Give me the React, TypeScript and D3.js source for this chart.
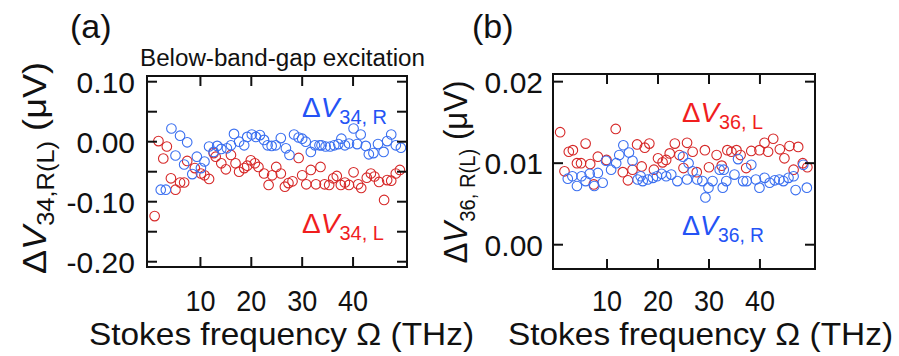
import React from "react";
import * as d3 from "d3";

// Panel (a): ΔV34 — frequency (THz) and voltage (μV)
const aRedX = [1.0,1.75,2.7,3.4,4.2,5.1,6.0,6.8,7.4,8.9,10.1,10.8,11.7,12.6,13.0,14.1,15.0,16.0,16.9,17.6,18.6,19.2,19.9,20.7,21.4,22.5,23.4,24.1,24.9,25.8,26.6,27.3,28.1,29.3,30.0,30.8,31.7,32.7,33.6,34.4,35.3,36.1,36.8,37.6,38.4,39.2,40.1,41.0,41.6,42.7,43.5,44.2,45.1,46.1,46.7,47.5,48.4,49.2];
const aRedV = [-0.124,0.001,-0.028,-0.008,-0.061,-0.080,-0.068,-0.068,-0.032,-0.044,-0.053,-0.056,-0.062,-0.019,-0.025,-0.036,-0.046,-0.022,-0.036,-0.050,-0.044,-0.040,-0.031,-0.036,-0.042,-0.053,-0.072,-0.056,-0.042,-0.053,-0.075,-0.069,-0.066,-0.027,-0.056,-0.071,-0.047,-0.071,-0.042,-0.071,-0.072,-0.061,-0.057,-0.072,-0.068,-0.072,-0.051,-0.071,-0.077,-0.060,-0.053,-0.058,-0.067,-0.097,-0.064,-0.065,-0.053,-0.047];
const aBlueX = [2.2,3.2,4.3,5.1,6.0,6.8,7.4,8.4,9.3,10.1,10.8,11.7,12.6,13.3,14.1,15.2,16.0,16.6,17.6,18.6,19.2,20.1,20.9,21.7,22.5,23.2,24.0,24.8,25.8,26.8,27.5,28.4,29.3,30.0,30.7,31.7,32.5,33.4,33.8,34.6,35.5,36.3,37.1,37.7,38.4,39.2,40.1,40.8,41.5,42.5,43.1,44.0,44.9,46.0,46.7,47.5,48.4,49.4];
const aBlueV = [-0.080,-0.080,0.022,-0.023,0.010,-0.038,-0.001,-0.054,-0.025,-0.044,-0.033,-0.008,-0.017,-0.007,-0.012,-0.011,-0.006,0.013,0.000,-0.006,0.008,0.012,0.008,0.011,0.003,-0.006,-0.007,-0.006,0.006,-0.011,-0.022,0.012,0.007,0.005,0.000,-0.017,-0.006,-0.006,-0.006,-0.008,-0.008,-0.006,-0.004,0.005,-0.006,-0.003,0.022,-0.004,0.012,-0.007,-0.021,-0.019,-0.004,-0.017,0.001,0.012,-0.006,-0.010];

// Panel (b): ΔV36
const bRedX = [0.8,1.65,2.5,3.3,4.1,4.9,5.8,6.7,7.4,8.2,9.9,11.7,13.1,14.1,15.0,15.9,16.8,17.4,18.3,19.2,20.0,20.9,21.6,22.3,23.3,24.2,25.0,25.7,26.8,27.6,29.2,30.0,31.5,32.5,33.6,34.4,35.4,36.2,37.3,38.3,39.9,40.9,41.6,42.6,43.9,44.8,45.8,46.6,47.5,48.4,49.3];
const bRedV = [0.0138,0.0090,0.0114,0.0116,0.0100,0.0100,0.0124,0.0099,0.0074,0.0108,0.0104,0.0142,0.0089,0.0079,0.0092,0.0123,0.0096,0.0119,0.0124,0.0092,0.0106,0.0101,0.0104,0.0112,0.0124,0.0110,0.0094,0.0125,0.0114,0.0089,0.0116,0.0095,0.0110,0.0097,0.0116,0.0114,0.0116,0.0110,0.0094,0.0115,0.0116,0.0125,0.0114,0.0130,0.0117,0.0106,0.0121,0.0092,0.0120,0.0100,0.0095];
const bBlueX = [2.3,3.2,4.1,5.0,5.8,6.6,7.5,8.2,9.15,9.8,10.8,11.8,12.4,13.2,14.3,15.0,16.0,16.6,17.0,18.0,19.0,19.8,20.7,21.6,22.6,23.8,24.9,25.7,26.0,26.8,27.7,28.7,29.3,29.9,30.7,32.1,32.7,32.9,33.4,35.0,35.7,36.7,37.4,38.3,39.2,39.9,40.9,41.9,42.9,43.8,44.6,45.6,46.6,47.0,48.5,49.2];
const bBlueV = [0.0081,0.0084,0.0072,0.0084,0.0078,0.0087,0.0072,0.0088,0.0076,0.0103,0.0092,0.0100,0.0110,0.0122,0.0113,0.0103,0.0080,0.0084,0.0078,0.0080,0.0082,0.0084,0.0087,0.0084,0.0086,0.0078,0.0108,0.0080,0.0100,0.0090,0.0080,0.0078,0.0058,0.0070,0.0078,0.0092,0.0070,0.0092,0.0078,0.0086,0.0105,0.0078,0.0078,0.0098,0.0080,0.0070,0.0082,0.0076,0.0079,0.0080,0.0078,0.0082,0.0084,0.0067,0.0098,0.0070];

const xTicks = [10, 20, 30, 40];
const aYTicks = [-0.20, -0.15, -0.10, -0.05, 0.00, 0.05, 0.10];
const aYLabels = ["-0.20", "-0.10", "0.00", "0.10"];
const aYLabelVals = [-0.20, -0.10, 0.00, 0.10];
const bYTicks = [0.00, 0.01, 0.02];
const bYLabels = ["0.00", "0.01", "0.02"];

const FONT = "'Liberation Sans', Arial, Helvetica, sans-serif";
const RED_PT = "#d62828";
const BLUE_PT = "#3a6ff0";
const RED_TX = "#f01e1e";
const BLUE_TX = "#2453f5";

type PanelProps = {
  x0: number; x1: number; y0: number; y1: number;
  xd: [number, number]; yd: [number, number];
  yTicks: number[]; yLabelVals: number[]; yLabels: string[];
  labelRight: number;
  series: { xs: number[]; vs: number[]; color: string }[];
};

function Panel(p: PanelProps) {
  const x = d3.scaleLinear().domain(p.xd).range([p.x0, p.x1]);
  const y = d3.scaleLinear().domain(p.yd).range([p.y1, p.y0]);
  const tl = 10;
  return (
    <g>
      {p.series.map((s, si) => (
        <g key={si}>
          {s.xs.map((xv, i) => (
            <circle key={i} cx={x(xv)} cy={y(s.vs[i])} r={4.8} fill="none" stroke={s.color} strokeWidth={1.1} />
          ))}
        </g>
      ))}
      <rect x={p.x0} y={p.y0} width={p.x1 - p.x0} height={p.y1 - p.y0} fill="none" stroke="#111" strokeWidth={2} />
      {xTicks.map((t) => (
        <g key={"x" + t}>
          <line x1={x(t)} x2={x(t)} y1={p.y0} y2={p.y0 + tl} stroke="#111" strokeWidth={2} />
          <line x1={x(t)} x2={x(t)} y1={p.y1} y2={p.y1 - tl} stroke="#111" strokeWidth={2} />
          <text x={x(t)} y={311} textAnchor="middle" fontFamily={FONT} fontSize={30} textLength={30} lengthAdjust="spacingAndGlyphs" fill="#111">{t}</text>
        </g>
      ))}
      {p.yTicks.map((t) => (
        <g key={"y" + t}>
          <line x1={p.x0} x2={p.x0 + tl} y1={y(t)} y2={y(t)} stroke="#111" strokeWidth={2} />
          <line x1={p.x1} x2={p.x1 - tl} y1={y(t)} y2={y(t)} stroke="#111" strokeWidth={2} />
        </g>
      ))}
      {p.yLabelVals.map((t, i) => (
        <text key={"yl" + i} x={p.labelRight} y={y(t) + 11} textAnchor="end" fontFamily={FONT} fontSize={30} fill="#111">{p.yLabels[i]}</text>
      ))}
    </g>
  );
}

function InLabel({ x, y, sub, color, len }: { x: number; y: number; sub: string; color: string; len: number }) {
  return (
    <text x={x} y={y} fontFamily={FONT} fontSize={28} fill={color} textLength={len} lengthAdjust="spacingAndGlyphs">
      <tspan>Δ</tspan>
      <tspan fontStyle="italic">V</tspan>
      <tspan fontSize={20} dy={7}>{sub}</tspan>
    </text>
  );
}

export default function App() {
  return (
    <svg width={899} height={356} style={{ display: "block", position: "absolute", left: 0, top: 0 }}>
      <rect width={899} height={356} fill="#fff" />
      <text x={70} y={38} fontFamily={FONT} fontSize={34} fill="#111">(a)</text>
      <text x={472} y={38} fontFamily={FONT} fontSize={34} fill="#111">(b)</text>
      <text x={140} y={66} fontFamily={FONT} fontSize={23} fill="#111" textLength={285} lengthAdjust="spacingAndGlyphs">Below-band-gap excitation</text>

      <Panel
        x0={147} x1={407} y0={76} y1={267}
        xd={[-0.5, 50.6]} yd={[-0.2088, 0.1095]}
        yTicks={aYTicks} yLabelVals={aYLabelVals} yLabels={aYLabels}
        labelRight={135}
        series={[{ xs: aRedX, vs: aRedV, color: RED_PT }, { xs: aBlueX, vs: aBlueV, color: BLUE_PT }]}
      />
      <Panel
        x0={553} x1={815} y0={74} y1={269}
        xd={[-0.6, 50.8]} yd={[-0.00298, 0.02094]}
        yTicks={bYTicks} yLabelVals={bYTicks} yLabels={bYLabels}
        labelRight={543}
        series={[{ xs: bRedX, vs: bRedV, color: RED_PT }, { xs: bBlueX, vs: bBlueV, color: BLUE_PT }]}
      />

      <InLabel x={302} y={117} sub="34, R" color={BLUE_TX} len={85} />
      <InLabel x={302} y={233} sub="34, L" color={RED_TX} len={82} />
      <InLabel x={682} y={122} sub="36, L" color={RED_TX} len={81} />
      <InLabel x={682} y={235} sub="36, R" color={BLUE_TX} len={82} />

      <text transform="translate(46,168) rotate(-90)" textAnchor="middle" fontFamily={FONT} fontSize={34} fill="#111" textLength={212} lengthAdjust="spacingAndGlyphs">
        <tspan>Δ</tspan>
        <tspan fontStyle="italic">V</tspan>
        <tspan fontSize={24} dy={8}>34,R(L)</tspan>
        <tspan dy={-8}> (μV)</tspan>
      </text>
      <text transform="translate(467,172) rotate(-90)" textAnchor="middle" fontFamily={FONT} fontSize={34} fill="#111" textLength={183} lengthAdjust="spacingAndGlyphs">
        <tspan>Δ</tspan>
        <tspan fontStyle="italic">V</tspan>
        <tspan fontSize={22} dy={8}>36, R(L)</tspan>
        <tspan dy={-8}> (μV)</tspan>
      </text>

      <text x={89} y={345} fontFamily={FONT} fontSize={32} fill="#111" textLength={385} lengthAdjust="spacingAndGlyphs">Stokes frequency Ω (THz)</text>
      <text x={508} y={345} fontFamily={FONT} fontSize={32} fill="#111" textLength={385} lengthAdjust="spacingAndGlyphs">Stokes frequency Ω (THz)</text>
    </svg>
  );
}
